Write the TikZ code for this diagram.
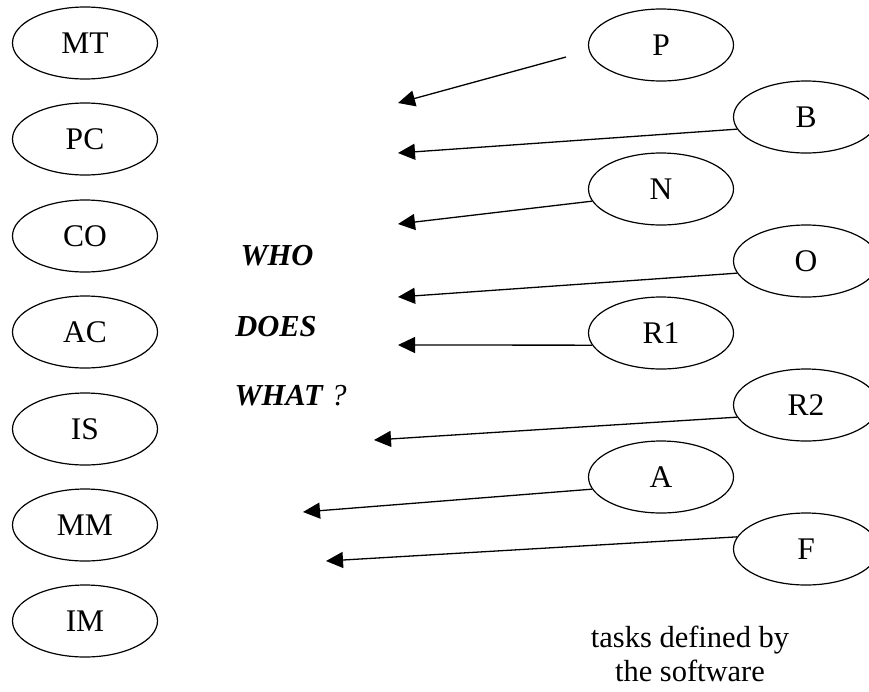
\documentclass[tikz,border=0pt]{standalone}
\usepackage{fontspec}
\setmainfont{Liberation Serif}
\usetikzlibrary{shapes.geometric,arrows.meta}

\tikzset{
  role/.style={ellipse, draw, line width=1.2pt, minimum width=145pt,
    minimum height=72pt, inner sep=0pt, text depth=0pt,
    font=\fontsize{31.5}{36}\selectfont},
  link/.style={line width=1.3pt, -{Triangle[length=17pt,width=16pt]}},
  question/.style={font=\fontsize{30.5}{36}\selectfont\bfseries\itshape},
  note/.style={font=\fontsize{30.5}{34}\selectfont, align=center}
}

\begin{document}
\begin{tikzpicture}[x=1pt,y=-1pt]
\useasboundingbox (0,0) rectangle (869,691);

% roles on the left
\node[role] (MT) at (85,43)  {MT};
\node[role] (PC) at (85,139) {PC};
\node[role] (CO) at (85,236) {CO};
\node[role] (AC) at (85,332) {AC};
\node[role] (IS) at (85,429) {IS};
\node[role] (MM) at (85,525) {MM};
\node[role] (IM) at (85,621) {IM};

% tasks on the right
\node[role] (P)  at (661,45)  {P};
\node[role] (B)  at (806,117) {B};
\node[role] (N)  at (661,189) {N};
\node[role] (O)  at (806,261) {O};
\node[role] (R1) at (661,333) {R1};
\node[role] (R2) at (806,405) {R2};
\node[role] (A)  at (661,477) {A};
\node[role] (F)  at (806,549) {F};

% central question
\node[question, anchor=base] (who)  at (277,265) {WHO};
\node[question, anchor=base] (does) at (276,336) {DOES};
\node[anchor=base west, font=\fontsize{30.5}{36}\selectfont] (what) at (231,405)
  {\textbf{\textit{WHAT}} \textit{?}};

% caption
\node[note, anchor=north] (caption) at (690,622) {tasks defined by\\the software};

% arrow ends
\coordinate (sP)  at (566,57);
\coordinate (tP)  at (398,103);
\coordinate (tB)  at (398,153);
\coordinate (tN)  at (398,224);
\coordinate (tO)  at (398,297);
\coordinate (tR1) at (398,345);
\coordinate (tR2) at (374,440);
\coordinate (tA)  at (303,512);
\coordinate (tF)  at (326,561);

\draw[link] (sP) -- (tP);
\draw[link] (B.190)  -- (tB);
\draw[link] (N.190)  -- (tN);
\draw[link] (O.190)  -- (tO);
\draw[link] (R1.190) -- (tR1);
\draw[link] (R2.190) -- (tR2);
\draw[link] (A.190)  -- (tA);
\draw[link] (F.170)  -- (tF);
\end{tikzpicture}
\end{document}
